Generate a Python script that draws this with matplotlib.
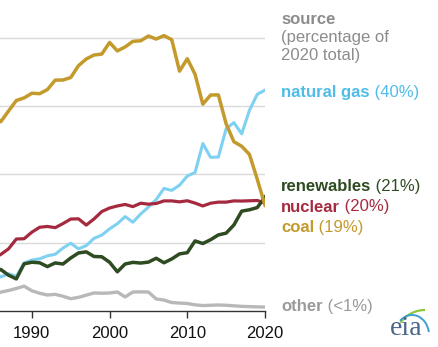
import numpy as np
import matplotlib.pyplot as plt
from matplotlib.patches import Arc

plt.rcParams['font.family'] = ['Liberation Sans', 'DejaVu Sans']

# US electricity generation, billion kWh
years = list(range(1985, 2021))
coal = [1402, 1386, 1464, 1541, 1560, 1594, 1591, 1621, 1690, 1691,
        1709, 1796, 1845, 1874, 1881, 1966, 1904, 1933, 1974, 1978,
        2013, 1991, 2016, 1986, 1756, 1847, 1733, 1514, 1581, 1582,
        1370, 1239, 1206, 1146, 965, 774]
natural_gas = [292, 249, 273, 253, 352, 373, 382, 404, 415, 461,
               496, 455, 479, 532, 556, 601, 639, 691, 650, 710,
               761, 816, 897, 883, 921, 988, 1014, 1226, 1125, 1127,
               1335, 1379, 1297, 1469, 1586, 1617]
nuclear = [384, 414, 455, 527, 529, 577, 613, 619, 610, 640,
           673, 675, 629, 674, 728, 754, 769, 780, 764, 789,
           782, 787, 806, 806, 799, 807, 790, 769, 789, 797,
           797, 806, 805, 807, 809, 790]
renewables = [300, 304, 262, 235, 345, 357, 353, 325, 352, 344,
              388, 425, 433, 399, 397, 357, 287, 344, 356, 351,
              358, 386, 353, 381, 418, 427, 513, 494, 522, 557,
              570, 630, 731, 741, 757, 834]
other = [120, 138, 150, 165, 182, 148, 130, 117, 122, 108,
         90, 100, 116, 132, 130, 132, 139, 103, 139, 140,
         139, 88, 80, 62, 58, 55, 45, 40, 42, 44,
         42, 38, 34, 32, 30, 29]

gray_c = '#b8b8b8'
gas_c = '#7fd1f2'
coal_c = '#c49a2c'
nuc_c = '#a52a3f'
ren_c = '#2f4b22'

fig = plt.figure(figsize=(4.39, 3.47), dpi=100)
ax = fig.add_axes([0, 36 / 347, 265 / 439, 311 / 347])

ax.plot(years, other, color=gray_c, lw=2.4)
ax.plot(years, natural_gas, color=gas_c, lw=2.2)
ax.plot(years, nuclear, color=nuc_c, lw=2.3)
ax.plot(years, renewables, color=ren_c, lw=2.5)
ax.plot(years, coal, color=coal_c, lw=2.5)

ax.set_xlim(1985.9, 2020)
ax.set_ylim(0, 311 / 68.3 * 500)
ax.set_yticks([500, 1000, 1500, 2000])
ax.grid(axis='y', color='#dadada', lw=1)
ax.set_axisbelow(True)
ax.tick_params(axis='y', left=False, labelleft=False)
ax.set_xticks([1990, 2000, 2010, 2020])
ax.tick_params(axis='x', direction='out', length=5, width=1, color='#333333',
               labelsize=12, pad=6, labelcolor='#111111')
for s in ['top', 'right', 'left']:
    ax.spines[s].set_visible(False)
ax.spines['bottom'].set_color('#333333')
ax.spines['bottom'].set_linewidth(1)

# right side labels
x0 = 281 / 439
H = 347


def label(ybase, bold, rest, color):
    t = fig.text(x0, 1 - ybase / H, bold, color=color, fontsize=12,
                 fontweight='bold', va='baseline', ha='left')
    if rest:
        fig.canvas.draw()
        bb = t.get_window_extent()
        fig.text(bb.x1 / fig.bbox.width, 1 - ybase / H, rest, color=color,
                 fontsize=12, va='baseline', ha='left')


label(23.5, 'source', '', '#8c8c8c')
fig.text(x0, 1 - 42 / H, '(percentage of', color='#8c8c8c', fontsize=12, va='baseline')
fig.text(x0, 1 - 60 / H, '2020 total)', color='#8c8c8c', fontsize=12, va='baseline')
label(97.5, 'natural gas', ' (40%)', '#4fbde8')
label(191, 'renewables', ' (21%)', ren_c)
label(211.5, 'nuclear', ' (20%)', nuc_c)
label(232, 'coal', ' (19%)', coal_c)
label(311, 'other', ' (<1%)', '#9a9a9a')

# eia logo (pixel coords, y measured upward)
fig.text(406 / 439, 1 - 335 / H, 'eia', family='Liberation Serif', fontsize=20,
         color='#4a6585', ha='center', va='baseline')
lax = fig.add_axes([392 / 439, 7 / H, 40 / 439, 40 / H])
lax.set_xlim(392, 432)
lax.set_ylim(7, 47)
lax.axis('off')
lax.add_patch(Arc((425, H - 340), 60, 60, theta1=90, theta2=145,
                  color='#8cc63f', lw=1.6))
lax.add_patch(Arc((412, H - 335), 34, 40, theta1=10, theta2=130,
                  color='#3f9fd2', lw=1.4))

fig.savefig('out.png', dpi=100)
